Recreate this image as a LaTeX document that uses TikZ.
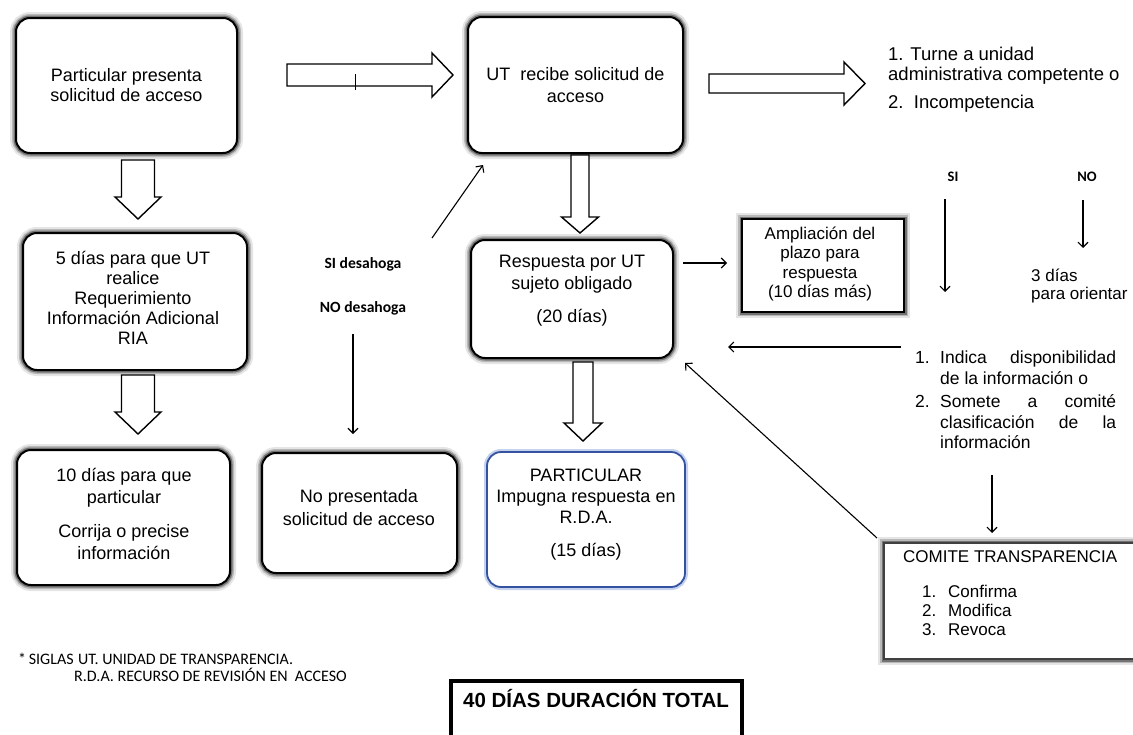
\documentclass[tikz,border=0pt]{standalone}
\usepackage{fontspec}
\setmainfont{Liberation Sans}
\newfontfamily\carl{Carlito}
\usetikzlibrary{arrows.meta,calc}

\definecolor{ptblue}{RGB}{52,82,160}
\definecolor{ptglow}{RGB}{196,210,238}

% hollow block arrows between two named points
\newcommand\hblock[5]{% start, tip, shaft half width, head half width, head length
  \path[blk] let \p1=(#1), \p2=(#2) in
    (\x1,\y1+#3) -- (\x2-#5,\y1+#3) -- (\x2-#5,\y1+#4) -- (\x2,\y1)
    -- (\x2-#5,\y1-#4) -- (\x2-#5,\y1-#3) -- (\x1,\y1-#3) -- cycle;}
\newcommand\vblock[5]{% downward version
  \path[blk] let \p1=(#1), \p2=(#2) in
    (\x1-#3,\y1) -- (\x1-#3,\y2+#5) -- (\x1-#4,\y2+#5) -- (\x1,\y2)
    -- (\x1+#4,\y2+#5) -- (\x1+#3,\y2+#5) -- (\x1+#3,\y1) -- cycle;}

\tikzset{
  glow/.style={preaction={draw=black!10,line width=12pt},
               preaction={draw=black!28,line width=8pt},
               preaction={draw=black!55,line width=5pt}},
  rbox/.style={glow, draw=black, line width=2pt, fill=white,
               rounded corners=14pt, inner sep=0pt},
  sbox/.style={glow, draw=black, line width=2.4pt, fill=white, inner sep=0pt},
  bluebox/.style={preaction={draw=ptglow,line width=6pt}, draw=ptblue,
               line width=1.8pt, fill=white, rounded corners=14pt, inner sep=0pt},
  txt/.style={align=center, inner sep=0pt},
  lbl/.style={inner sep=0pt, font=\carl\bfseries\fontsize{15.6}{18}\selectfont},
  thinarrow/.style={line width=1.1pt, -{Straight Barb[length=5pt,width=10pt]}},
  blk/.style={draw=black, line width=1.4pt, fill=white, line join=miter},
}

\begin{document}
\begin{tikzpicture}[x=1pt,y=-1pt]
\useasboundingbox (0,0) rectangle (1133,734);
\fill[white] (0,0) rectangle (1133,734);
\clip (0,0) rectangle (1133,734);

% ---- boxes ----
\node[rbox, txt, minimum width=221pt, minimum height=135pt,
      font=\fontsize{18}{20}\selectfont] (p1) at (126.5,85.5)
      {Particular presenta\\solicitud de acceso};
\node[rbox, txt, minimum width=215pt, minimum height=136pt,
      font=\fontsize{18}{22}\selectfont] (ut) at (575.5,85)
      {UT\ \ recibe solicitud de\\acceso};

\node[rbox, minimum width=224pt, minimum height=137pt] (t5) at (135,301.5) {};
\node[txt, font=\fontsize{18}{20}\selectfont] (t5t) at (133,298)
      {5 días para que UT\\realice\\Requerimiento\\Información Adicional\\RIA};

\node[rbox, minimum width=213pt, minimum height=135pt] (t10) at (123.5,517.5) {};
\node[txt, font=\fontsize{18}{22}\selectfont] (t10t) at (124,514)
      {10 días para que\\particular\\[12pt]Corrija o precise\\información};

\node[rbox, minimum width=195pt, minimum height=120pt] (np) at (359.5,513) {};
\node[txt, font=\fontsize{18}{23}\selectfont] (npt) at (359,507.5)
      {No presentada\\solicitud de acceso};

\node[bluebox, minimum width=198pt, minimum height=135pt] (pa) at (586,519.5) {};
\node[txt, font=\fontsize{18}{21}\selectfont] (pat) at (586,514.5)
      {PARTICULAR\\Impugna respuesta en\\R.D.A.\\[12pt](15 días)};

\node[rbox, minimum width=202pt, minimum height=118pt] (rp) at (572,299) {};
\node[txt, font=\fontsize{18}{22}\selectfont] (rpt) at (572,290.5)
      {Respuesta por UT\\sujeto obligado\\[11pt](20 días)};

\node[sbox, minimum width=162pt, minimum height=93pt] (am) at (823,265.5) {};
\node[txt, font=\fontsize{17}{19.5}\selectfont] (amt) at (820,264)
      {Ampliación del\\plazo para\\respuesta\\(10 días más)};

\node[sbox, draw=black!75, minimum width=276pt, minimum height=116pt] (cm) at (1022,601) {};
\node[inner sep=0pt, anchor=west, font=\fontsize{17}{19}\selectfont] (cmt) at (903,557)
      {COMITE TRANSPARENCIA};
\node[inner sep=0pt, anchor=north west, align=left, font=\fontsize{17}{19}\selectfont]
      (cml) at (922,585)
      {\makebox[26pt][l]{1.}Confirma\\\makebox[26pt][l]{2.}Modifica\\\makebox[26pt][l]{3.}Revoca};

\node[draw=black, line width=3.2pt, minimum width=291pt, minimum height=80pt,
      inner sep=0pt] (tot) at (596.5,721) {};
\node[inner sep=0pt, anchor=west, font=\bfseries\fontsize{20.5}{24}\selectfont]
      (tott) at (463,699) {40 DÍAS DURACIÓN TOTAL};

% ---- free texts ----
\node[inner sep=0pt, anchor=north west, align=left, font=\fontsize{18.5}{20}\selectfont]
      (turne) at (888,46.5)
      {1. Turne a unidad\\administrativa competente o\\[8pt]2.\ \ Incompetencia};
\node[lbl, font=\carl\bfseries\fontsize{14.5}{17}\selectfont] (si) at (953,177) {SI};
\node[lbl, font=\carl\bfseries\fontsize{14.5}{17}\selectfont] (no) at (1087,177) {NO};
\node[inner sep=0pt, anchor=north west, align=left, font=\fontsize{17}{18}\selectfont]
      (ori) at (1031,268.5) {3 días\\para orientar};
\node[inner sep=0pt, anchor=north west, align=left,
      font=\fontsize{17.5}{20.5}\selectfont] (ind) at (915,351)
      {\makebox[25pt][l]{1.}\makebox[176pt][s]{Indica disponibilidad}\\
       \hspace*{25pt}de la información o\\[3pt]
       \makebox[25pt][l]{2.}\makebox[176pt][s]{Somete a comité}\\
       \hspace*{25pt}\makebox[176pt][s]{clasificación de la}\\
       \hspace*{25pt}información};
\node[lbl] (sides) at (363,264) {SI desahoga};
\node[lbl] (nodes) at (363,308) {NO desahoga};
\node[inner sep=0pt, anchor=north west, align=left,
      font=\carl\fontsize{16}{17}\selectfont] (siglas) at (18,653)
      {\makebox[60pt][l]{*\,SIGLAS}UT. UNIDAD DE TRANSPARENCIA.\\
       \hspace*{56pt}R.D.A. RECURSO DE REVISIÓN EN\ \ ACCESO};

% ---- block arrows ----
\coordinate (a1s) at (287,75);   \coordinate (a1e) at (453,75);
\coordinate (a2s) at (709,83.5); \coordinate (a2e) at (865,83.5);
\coordinate (a3s) at (138,160);  \coordinate (a3e) at (138,219);
\coordinate (a4s) at (138,375);  \coordinate (a4e) at (138,434);
\coordinate (a5s) at (580,155);  \coordinate (a5e) at (580,233);
\coordinate (a6s) at (583,362);  \coordinate (a6e) at (583,441);
\hblock{a1s}{a1e}{11pt}{22pt}{21pt}
\hblock{a2s}{a2e}{9.5pt}{21.5pt}{21pt}
\vblock{a3s}{a3e}{16.5pt}{23pt}{22pt}
\vblock{a4s}{a4e}{16.5pt}{23pt}{22pt}
\vblock{a5s}{a5e}{9pt}{18.5pt}{16pt}
\vblock{a6s}{a6e}{10pt}{19pt}{18pt}
\coordinate (tk1) at (355,74); \coordinate (tk2) at (355,90);
\draw[line width=1pt] (tk1) -- (tk2);

% ---- thin connectors ----
\coordinate (sd1) at (432,238); \coordinate (sd2) at (483,165);
\coordinate (nd1) at (353,334); \coordinate (nd2) at (353,434);
\coordinate (ra1) at (683,263); \coordinate (ra2) at (727,263);
\coordinate (ir1) at (901,347); \coordinate (ir2) at (728,347);
\coordinate (cr1) at (877,538); \coordinate (cr2) at (685,363);
\coordinate (si1) at (945,199); \coordinate (si2) at (945,292);
\coordinate (no1) at (1083,200); \coordinate (no2) at (1083,248);
\coordinate (ic1) at (992,475); \coordinate (ic2) at (992,533);
\draw[thinarrow] (sd1) -- (sd2);
\draw[thinarrow] (nd1) -- (nd2);
\draw[thinarrow] (ra1) -- (ra2);
\draw[thinarrow] (ir1) -- (ir2);
\draw[thinarrow] (cr1) -- (cr2);
\draw[thinarrow] (si1) -- (si2);
\draw[thinarrow] (no1) -- (no2);
\draw[thinarrow] (ic1) -- (ic2);
\end{tikzpicture}
\end{document}
